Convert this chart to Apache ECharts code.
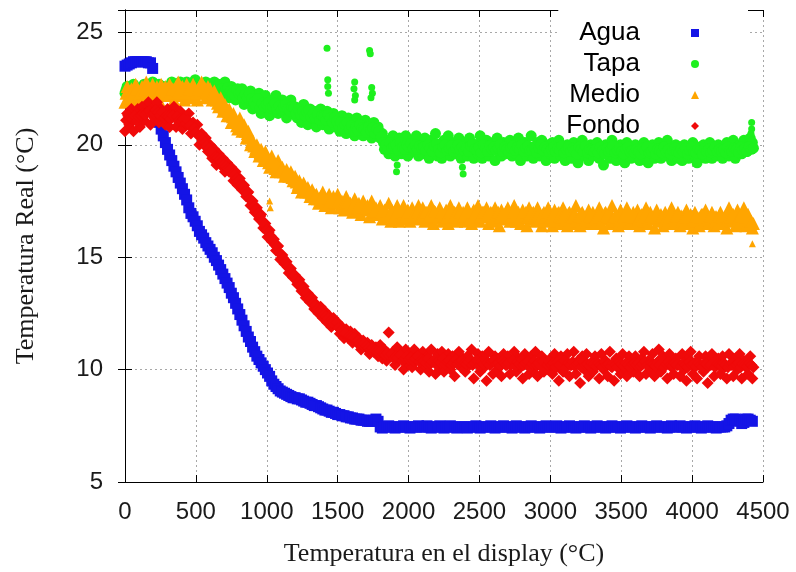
<!DOCTYPE html>
<html>
<head>
<meta charset="utf-8">
<script src="https://cdn.jsdelivr.net/npm/echarts/dist/echarts.min.js"></script>
<style>
  html, body { margin: 0; padding: 0; background: #ffffff; }
  #chart { width: 796px; height: 572px; }
</style>
</head>
<body>
<div id="chart"></div>
<script>
// Readings are logged every 15 units of display temperature, starting at 0.
// The sensors in the container are sampled twice per step: pass A at the step,
// pass B half a step later.
const X_STEP = 15;
const PASS_B_OFFSET = 7.5;

const xTicks = [0, 500, 1000, 1500, 2000, 2500, 3000, 3500, 4000, 4500];
const yTicks = [5, 10, 15, 20, 25];

const seriesNames = ['Agua', 'Tapa', 'Medio', 'Fondo'];

// Agua (water)
const agua = [
  23.5, 23.55, 23.6, 23.65, 23.7, 23.7, 23.7, 23.7, 23.7, 23.7, 23.7, 23.65, 23.65, 23.4, 22.5, 21.4, 21.0, 20.7, 20.4, 20.1,
  19.8, 19.55, 19.3, 19.05, 18.8, 18.55, 18.3, 18.05, 17.8, 17.55, 17.2, 16.95, 16.8, 16.6, 16.4, 16.15, 16.0, 15.85, 15.65, 15.5,
  15.35, 15.2, 15.0, 14.85, 14.65, 14.45, 14.25, 14.05, 13.85, 13.65, 13.4, 13.2, 12.95, 12.7, 12.45, 12.2, 11.95, 11.7, 11.45, 11.25,
  11.0, 10.8, 10.6, 10.45, 10.3, 10.15, 10.0, 9.85, 9.7, 9.5, 9.35, 9.25, 9.15, 9.05, 9.0, 8.95, 8.9, 8.85, 8.8, 8.75,
  8.75, 8.7, 8.7, 8.65, 8.6, 8.55, 8.55, 8.5, 8.45, 8.4, 8.4, 8.35, 8.3, 8.25, 8.2, 8.2, 8.15, 8.1, 8.1, 8.05,
  8.0, 8.0, 7.95, 7.95, 7.9, 7.9, 7.85, 7.85, 7.8, 7.8, 7.8, 7.75, 7.75, 7.75, 7.7, 7.7, 7.7, 7.75, 7.8, 7.7,
  7.45, 7.4, 7.45, 7.45, 7.5, 7.45, 7.45, 7.4, 7.45, 7.45, 7.45, 7.5, 7.45, 7.45, 7.4, 7.45, 7.45, 7.45, 7.5, 7.45,
  7.45, 7.45, 7.5, 7.45, 7.4, 7.45, 7.45, 7.45, 7.5, 7.45, 7.4, 7.45, 7.45, 7.5, 7.45, 7.45, 7.4, 7.45, 7.45, 7.45,
  7.45, 7.4, 7.45, 7.45, 7.45, 7.5, 7.45, 7.4, 7.45, 7.45, 7.45, 7.45, 7.5, 7.45, 7.4, 7.45, 7.45, 7.45, 7.5, 7.45,
  7.45, 7.45, 7.4, 7.45, 7.5, 7.45, 7.45, 7.45, 7.4, 7.45, 7.45, 7.5, 7.45, 7.45, 7.45, 7.4, 7.45, 7.45, 7.5, 7.45,
  7.45, 7.45, 7.45, 7.5, 7.45, 7.4, 7.45, 7.45, 7.45, 7.5, 7.45, 7.45, 7.4, 7.45, 7.45, 7.45, 7.5, 7.45, 7.45, 7.4,
  7.45, 7.45, 7.5, 7.45, 7.45, 7.45, 7.4, 7.45, 7.45, 7.5, 7.45, 7.45, 7.45, 7.4, 7.45, 7.45, 7.5, 7.45, 7.45, 7.45,
  7.4, 7.45, 7.45, 7.5, 7.45, 7.45, 7.45, 7.4, 7.45, 7.45, 7.5, 7.45, 7.45, 7.45, 7.45, 7.4, 7.45, 7.5, 7.45, 7.45,
  7.45, 7.5, 7.45, 7.45, 7.4, 7.45, 7.45, 7.45, 7.5, 7.45, 7.45, 7.4, 7.45, 7.45, 7.5, 7.45, 7.45, 7.45, 7.4, 7.45,
  7.45, 7.45, 7.45, 7.5, 7.6, 7.75, 7.8, 7.8, 7.75, 7.7, 7.6, 7.65, 7.8, 7.8, 7.75, 7.7
];

// Tapa (lid), pass A
const tapa = [
  22.3, 22.6, 22.1, 22.5, 22.7, 22.2, 22.5, 22.1, 22.4, 22.7, 22.2, 22.6, 22.3, 22.8, 22.1, 22.5, 22.7, 22.2, 22.6, 22.4,
  22.6, 22.2, 22.8, 22.4, 22.7, 22.2, 22.8, 22.5, 22.3, 22.8, 22.6, 22.3, 22.7, 22.9, 22.4, 22.7, 22.3, 22.6, 22.8, 22.5,
  22.7, 22.3, 22.8, 22.4, 22.7, 22.2, 22.6, 22.8, 22.3, 22.1, 22.6, 22.4, 22.0, 22.5, 22.2, 22.5, 21.8, 22.3, 22.0, 22.4,
  21.6, 22.2, 21.8, 22.3, 21.4, 21.9, 22.2, 21.6, 21.3, 22.0, 21.7, 22.2, 21.4, 21.8, 22.0, 21.5, 21.2, 21.9, 22.0, 21.4,
  21.7, 21.2, 21.6, 21.0, 21.8, 21.3, 20.9, 21.6, 21.2, 21.5, 20.8, 21.4, 21.6, 20.9, 21.3, 21.5, 20.7, 21.1, 21.4, 20.8,
  21.1, 20.6, 21.3, 20.9, 20.5, 21.2, 20.8, 21.0, 20.4, 21.2, 20.7, 21.0, 20.4, 21.1, 20.6, 20.9, 20.3, 21.0, 20.5, 20.8,
  20.3, 20.5, 19.8, 20.2, 19.6, 20.0, 20.4, 19.5, 19.9, 20.3, 19.6, 20.1, 20.4, 19.5, 19.8, 20.2, 19.7, 20.4, 19.5, 20.0,
  19.6, 20.3, 19.9, 19.4, 20.2, 19.7, 20.5, 19.5, 20.0, 19.4, 20.2, 19.8, 20.4, 19.5, 19.9, 20.1, 19.6, 20.3, 19.4, 19.8,
  20.1, 19.5, 20.3, 19.8, 19.4, 20.0, 19.6, 20.4, 19.4, 19.9, 20.2, 19.5, 19.8, 20.1, 19.3, 20.3, 19.7, 19.5, 20.1, 19.6,
  19.9, 20.2, 19.5, 20.0, 19.6, 20.3, 19.3, 19.8, 20.1, 19.5, 19.9, 20.4, 19.4, 19.7, 20.1, 19.5, 20.2, 19.8, 19.3, 20.0,
  19.6, 20.1, 19.4, 19.9, 20.2, 19.5, 19.8, 19.3, 20.0, 19.6, 19.4, 20.1, 19.7, 19.2, 19.9, 20.2, 19.5, 19.8, 19.3, 20.0,
  19.5, 19.9, 20.1, 19.4, 19.7, 19.1, 20.0, 19.6, 19.4, 20.2, 19.8, 19.3, 19.9, 20.0, 19.5, 19.2, 20.1, 19.6, 19.4, 19.8,
  20.0, 19.5, 19.3, 19.9, 20.1, 19.6, 19.2, 19.8, 20.0, 19.4, 19.7, 20.1, 19.4, 19.9, 19.5, 20.2, 19.7, 19.3, 19.8, 20.0,
  19.4, 19.9, 19.3, 20.0, 19.6, 19.4, 19.8, 20.1, 19.5, 19.2, 19.9, 19.6, 20.0, 19.4, 19.7, 20.1, 19.4, 19.8, 19.5, 20.0,
  19.6, 19.4, 19.9, 20.1, 19.5, 19.8, 20.2, 19.4, 19.9, 20.0, 19.6, 20.2, 19.7, 20.0, 20.3, 20.1
];
// Tapa (lid), pass B
const tapaB = [
  22.45, 22.35, 22.6, 22.3, 22.5, 22.4, 22.3, 22.55, 22.25, 22.5, 22.4, 22.35, 22.6, 22.45, 22.3, 22.55, 22.4, 22.5, 22.3, 22.55,
  22.4, 22.55, 22.45, 22.6, 22.35, 22.5, 22.6, 22.4, 22.55, 22.45, 22.4, 22.6, 22.5, 22.45, 22.6, 22.5, 22.45, 22.55, 22.5, 22.6,
  22.5, 22.55, 22.45, 22.6, 22.4, 22.5, 22.3, 22.45, 22.55, 22.4, 22.3, 22.2, 22.45, 22.3, 22.35, 22.1, 22.25, 22.1, 22.3, 22.05,
  21.9, 21.75, 22.05, 21.6, 21.85, 21.7, 21.8, 21.9, 21.65, 21.7, 21.85, 21.6, 21.75, 21.55, 21.7, 21.8, 21.6, 21.5, 21.7, 21.65,
  21.4, 21.6, 21.35, 21.5, 21.3, 21.45, 21.55, 21.25, 21.4, 21.2, 21.35, 21.1, 21.3, 21.25, 21.1, 21.35, 21.2, 21.0, 21.2, 21.05,
  20.85, 21.0, 20.75, 20.9, 21.0, 20.7, 20.85, 20.6, 20.8, 20.65, 20.9, 20.75, 20.7, 20.55, 20.8, 20.65, 20.75, 20.5, 20.7, 20.6,
  20.35, 20.1, 20.0, 19.8, 20.1, 19.85, 19.95, 20.0, 19.75, 20.1, 19.9, 19.8, 20.0, 19.9, 20.05, 19.85, 20.0, 19.8, 19.95, 19.85,
  19.9, 19.75, 20.0, 19.85, 19.7, 19.95, 20.05, 19.8, 19.65, 19.9, 20.0, 19.75, 19.85, 19.95, 19.7, 19.85, 20.0, 19.8, 19.9, 19.75,
  19.85, 19.7, 19.95, 20.05, 19.8, 19.75, 19.9, 19.65, 20.0, 19.85, 19.7, 19.95, 19.8, 19.9, 19.75, 19.85, 20.0, 19.7, 19.9, 19.8,
  19.7, 19.85, 19.95, 19.75, 19.9, 19.8, 20.0, 19.7, 19.85, 19.95, 19.75, 19.8, 19.9, 19.65, 19.85, 20.0, 19.75, 19.9, 19.8, 19.7,
  19.8, 19.9, 19.7, 19.85, 19.75, 19.95, 19.65, 19.8, 19.9, 19.7, 19.85, 19.75, 19.6, 19.9, 19.8, 19.7, 19.95, 19.65, 19.8, 19.75,
  19.7, 19.8, 19.65, 19.9, 19.75, 19.6, 19.85, 19.7, 19.8, 19.95, 19.65, 19.75, 19.85, 19.7, 19.6, 19.8, 19.9, 19.7, 19.75, 19.65,
  19.8, 19.7, 19.6, 19.85, 19.75, 19.9, 19.65, 19.7, 19.85, 19.6, 19.8, 19.75, 19.65, 19.9, 19.7, 19.8, 19.6, 19.75, 19.85, 19.7,
  19.65, 19.8, 19.7, 19.85, 19.6, 19.75, 19.9, 19.7, 19.65, 19.8, 19.75, 19.6, 19.85, 19.7, 19.8, 19.65, 19.75, 19.9, 19.7, 19.8,
  19.7, 19.8, 19.65, 19.9, 19.75, 19.7, 19.85, 19.8, 19.65, 19.9, 19.75, 19.85, 19.7, 19.9, 19.8, 19.85
];
// Isolated lid readings off the main band, as [x, y]
const tapaSueltos = [
  [1425, 24.3], [1430, 22.9], [1430, 22.6], [1435, 22.3],
  [1620, 22.8], [1615, 22.5], [1625, 22.2], [1620, 22.0],
  [1725, 24.2], [1730, 24.05], [1740, 22.55], [1745, 22.3], [1735, 22.1],
  [1915, 18.8], [1920, 19.1], [2380, 19.0], [2385, 18.7],
  [4420, 21.0], [4420, 20.7], [4415, 20.5]
];

// Medio (middle), pass A
const medio = [
  21.9, 22.6, 22.1, 22.5, 22.0, 22.7, 22.3, 22.1, 22.6, 22.2, 22.8, 22.0, 22.5, 22.7, 22.1, 22.6, 22.0, 22.7, 22.3, 22.6,
  22.2, 22.7, 22.4, 22.0, 22.6, 22.8, 22.2, 22.6, 22.0, 22.7, 22.4, 22.1, 22.7, 22.5, 22.0, 22.6, 22.8, 22.3, 22.1, 22.6,
  22.5, 22.0, 22.4, 22.0, 21.7, 22.1, 21.5, 21.8, 21.3, 21.6, 21.0, 21.4, 21.0, 20.7, 21.2, 20.6, 20.9, 20.3, 20.6, 20.0,
  20.2, 19.7, 20.0, 19.5, 19.8, 19.3, 19.7, 19.4, 19.0, 19.5, 19.1, 18.8, 19.3, 18.8, 19.0, 18.6, 18.9, 18.6, 18.8, 18.4,
  18.6, 18.1, 18.4, 17.9, 18.3, 17.9, 18.1, 17.7, 18.0, 17.6, 17.8, 17.4, 17.7, 17.9, 17.3, 17.6, 17.8, 17.2, 17.7, 17.4,
  17.8, 17.2, 17.5, 17.1, 17.7, 17.3, 17.4, 17.0, 17.6, 17.1, 17.4, 16.9, 17.5, 17.2, 17.3, 16.8, 17.5, 17.0, 17.2, 16.9,
  17.3, 16.7, 17.1, 16.9, 17.4, 16.6, 17.0, 16.8, 17.3, 16.6, 17.0, 17.3, 16.7, 17.1, 16.6, 17.2, 16.9, 16.7, 17.3, 16.8,
  17.2, 16.6, 17.0, 16.7, 17.3, 16.5, 17.0, 16.8, 17.2, 16.6, 16.9, 17.1, 16.5, 17.3, 16.7, 17.0, 16.6, 17.2, 16.8, 17.0,
  16.6, 17.2, 16.9, 16.5, 17.1, 16.7, 17.3, 16.6, 17.0, 16.8, 17.2, 16.5, 17.0, 16.6, 17.2, 16.9, 16.4, 17.1, 16.7, 17.0,
  17.2, 16.6, 16.9, 17.3, 16.6, 17.0, 16.5, 17.1, 16.8, 16.4, 17.2, 16.7, 17.0, 16.6, 17.2, 16.9, 16.4, 17.0, 16.6, 17.2,
  16.8, 16.4, 17.1, 16.6, 17.0, 16.5, 17.2, 16.7, 16.4, 17.0, 16.9, 16.5, 17.3, 16.6, 16.4, 17.0, 16.8, 16.5, 17.1, 16.6,
  17.0, 16.5, 16.8, 17.2, 16.5, 16.3, 17.0, 16.7, 16.5, 17.3, 16.6, 16.9, 16.4, 17.1, 16.5, 16.8, 17.2, 16.5, 16.7, 17.0,
  16.5, 17.1, 16.4, 16.9, 16.6, 17.2, 16.5, 17.0, 16.7, 16.3, 17.1, 16.6, 16.9, 16.4, 17.0, 16.5, 16.8, 17.2, 16.5, 16.7,
  17.0, 16.4, 16.8, 16.5, 17.1, 16.5, 16.9, 16.3, 17.0, 16.6, 16.4, 16.9, 16.5, 17.1, 16.5, 16.7, 17.0, 16.4, 16.8, 16.5,
  17.0, 16.5, 16.8, 16.3, 17.2, 16.6, 16.9, 16.4, 17.1, 16.5, 16.8, 17.2, 16.4, 16.9, 16.6, 16.3
];
// Medio (middle), pass B
const medioB = [
  22.3, 22.45, 22.2, 22.4, 22.35, 22.5, 22.25, 22.4, 22.3, 22.45, 22.35, 22.5, 22.3, 22.4, 22.45, 22.25, 22.4, 22.35, 22.5, 22.4,
  22.4, 22.35, 22.5, 22.3, 22.45, 22.4, 22.55, 22.3, 22.45, 22.4, 22.5, 22.35, 22.45, 22.3, 22.5, 22.4, 22.45, 22.55, 22.4, 22.35,
  22.2, 22.25, 22.15, 21.85, 21.9, 21.75, 21.65, 21.55, 21.5, 21.3, 21.25, 21.15, 20.85, 20.95, 20.85, 20.75, 20.6, 20.5, 20.3, 20.15,
  19.95, 19.85, 19.75, 19.65, 19.55, 19.5, 19.55, 19.2, 19.25, 19.3, 18.95, 19.05, 19.0, 18.9, 18.8, 18.75, 18.7, 18.7, 18.55, 18.5,
  18.35, 18.25, 18.15, 18.1, 18.1, 18.0, 17.9, 17.85, 17.8, 17.75, 17.6, 17.6, 17.75, 17.6, 17.5, 17.65, 17.5, 17.45, 17.5, 17.55,
  17.5, 17.4, 17.35, 17.4, 17.45, 17.3, 17.2, 17.35, 17.3, 17.25, 17.15, 17.25, 17.3, 17.2, 17.1, 17.2, 17.25, 17.1, 17.05, 17.15,
  17.0, 16.9, 17.05, 16.85, 16.95, 17.1, 16.8, 16.95, 16.9, 17.0, 16.85, 17.05, 16.9, 16.8, 17.0, 16.9, 16.85, 17.0, 16.95, 16.85,
  16.9, 17.0, 16.8, 16.95, 16.85, 17.05, 16.9, 16.75, 17.0, 16.85, 16.95, 16.8, 17.0, 16.9, 16.85, 16.95, 16.8, 17.0, 16.9, 16.85,
  16.85, 16.95, 16.75, 17.0, 16.9, 16.8, 16.95, 16.85, 17.0, 16.8, 16.9, 16.85, 16.95, 16.75, 16.9, 17.0, 16.8, 16.9, 16.85, 16.95,
  16.9, 16.8, 17.0, 16.85, 16.95, 16.75, 16.9, 16.85, 17.0, 16.8, 16.9, 16.95, 16.8, 16.85, 16.95, 16.75, 16.9, 16.8, 17.0, 16.85,
  16.8, 16.9, 16.75, 16.95, 16.85, 16.8, 16.9, 16.7, 16.95, 16.85, 16.8, 16.9, 16.75, 16.85, 16.95, 16.8, 16.7, 16.9, 16.85, 16.8,
  16.85, 16.75, 16.9, 16.8, 16.7, 16.95, 16.85, 16.8, 16.9, 16.75, 16.85, 16.8, 16.7, 16.9, 16.8, 16.75, 16.85, 16.9, 16.7, 16.8,
  16.8, 16.7, 16.85, 16.75, 16.9, 16.8, 16.7, 16.85, 16.75, 16.8, 16.9, 16.7, 16.8, 16.85, 16.75, 16.7, 16.9, 16.8, 16.75, 16.85,
  16.75, 16.85, 16.7, 16.8, 16.9, 16.75, 16.8, 16.7, 16.85, 16.75, 16.8, 16.9, 16.7, 16.8, 16.75, 16.85, 16.7, 16.8, 16.75, 16.85,
  16.8, 16.7, 16.85, 16.75, 16.8, 16.9, 16.7, 16.8, 16.75, 16.85, 16.7, 16.8, 16.9, 16.7, 16.6, 16.5
];
const medioSueltos = [[1020, 17.5], [1025, 17.2], [4425, 15.6]];

// Fondo (bottom), pass A
const fondo = [
  20.6, 21.4, 20.9, 21.6, 20.6, 21.2, 21.6, 20.8, 21.7, 21.1, 21.4, 21.9, 20.9, 21.6, 21.2, 21.9, 21.0, 21.6, 21.3, 20.9,
  21.6, 20.8, 21.4, 21.7, 20.8, 21.1, 21.5, 20.7, 21.3, 20.9, 21.4, 20.5, 21.0, 20.6, 20.9, 20.0, 20.5, 20.0, 20.3, 19.7,
  20.0, 19.4, 19.8, 19.1, 19.6, 19.1, 19.4, 18.8, 19.2, 18.8, 19.0, 18.4, 18.8, 18.2, 18.5, 18.0, 18.2, 17.7, 17.9, 17.3,
  17.5, 17.0, 17.2, 16.7, 16.9, 16.3, 16.5, 15.9, 16.2, 15.7, 15.8, 15.3, 15.5, 14.9, 15.1, 14.7, 14.8, 14.3, 14.5, 14.1,
  14.2, 13.8, 14.0, 13.5, 13.7, 13.2, 13.4, 13.0, 13.2, 12.7, 12.9, 12.5, 12.8, 12.3, 12.6, 12.1, 12.4, 11.9, 12.3, 12.0,
  12.1, 11.6, 11.9, 11.4, 11.8, 11.4, 11.7, 11.2, 11.6, 11.2, 11.4, 10.9, 11.3, 11.0, 11.2, 10.7, 11.1, 10.8, 11.0, 10.6,
  11.1, 10.5, 10.9, 10.4, 11.65, 10.6, 10.8, 10.2, 11.0, 10.5, 10.7, 10.0, 10.9, 10.3, 10.7, 10.1, 10.9, 10.4, 10.6, 10.0,
  10.8, 10.2, 10.6, 9.9, 10.9, 10.4, 9.8, 10.7, 10.1, 10.8, 9.9, 10.5, 10.7, 10.0, 10.6, 9.7, 10.3, 10.8, 10.1, 10.5,
  9.9, 10.6, 10.2, 10.9, 9.6, 10.4, 10.7, 9.9, 10.6, 10.1, 9.5, 10.8, 10.3, 9.8, 10.6, 10.0, 10.5, 9.7, 10.7, 10.2,
  10.6, 9.8, 10.3, 10.8, 9.9, 10.5, 10.1, 9.6, 10.7, 10.2, 9.8, 10.6, 10.0, 10.8, 9.7, 10.4, 10.6, 9.9, 10.3, 10.0,
  10.5, 9.8, 10.7, 10.1, 9.5, 10.6, 9.9, 10.3, 10.7, 9.7, 10.2, 10.8, 9.8, 10.4, 9.4, 10.6, 10.0, 10.7, 9.7, 10.3,
  9.9, 10.6, 10.2, 9.6, 10.7, 10.0, 10.4, 9.7, 10.8, 10.1, 9.5, 10.5, 10.2, 9.8, 10.7, 10.0, 9.7, 10.6, 10.3, 9.9,
  10.6, 10.1, 9.7, 10.5, 10.8, 9.8, 10.4, 10.0, 10.7, 9.7, 10.3, 10.9, 9.9, 10.6, 10.2, 9.6, 10.7, 10.1, 9.8, 10.5,
  10.2, 9.7, 10.7, 10.0, 9.5, 10.5, 10.8, 9.8, 10.3, 9.6, 10.6, 10.1, 9.9, 10.6, 9.4, 10.4, 10.7, 9.7, 10.2, 10.5,
  9.8, 10.6, 10.1, 9.6, 10.7, 10.2, 9.7, 10.5, 10.0, 10.7, 9.6, 10.4, 10.1, 9.8, 10.6, 9.6
];
// Fondo (bottom), pass B
const fondoB = [
  21.1, 21.3, 21.2, 21.15, 21.3, 21.05, 21.25, 21.3, 21.4, 21.35, 21.45, 21.5, 21.35, 21.4, 21.55, 21.45, 21.3, 21.45, 21.2, 21.3,
  21.25, 21.15, 21.3, 21.2, 21.25, 21.1, 21.05, 21.15, 20.95, 21.1, 20.85, 20.8, 20.75, 20.55, 20.4, 20.35, 20.2, 20.1, 19.95, 19.85,
  19.7, 19.6, 19.45, 19.4, 19.35, 19.25, 19.1, 19.05, 18.95, 18.9, 18.7, 18.65, 18.5, 18.4, 18.25, 18.15, 17.95, 17.85, 17.6, 17.5,
  17.25, 17.1, 16.95, 16.8, 16.6, 16.45, 16.2, 16.1, 15.95, 15.8, 15.55, 15.45, 15.2, 15.1, 14.95, 14.8, 14.55, 14.45, 14.3, 14.2,
  14.0, 13.9, 13.75, 13.6, 13.45, 13.4, 13.2, 13.15, 12.95, 12.85, 12.7, 12.6, 12.55, 12.45, 12.35, 12.3, 12.15, 12.1, 12.05, 12.1,
  11.85, 11.75, 11.65, 11.6, 11.55, 11.5, 11.45, 11.4, 11.35, 11.3, 11.15, 11.1, 11.15, 11.05, 10.95, 10.9, 10.95, 10.85, 10.8, 10.75,
  10.8, 10.7, 10.65, 10.75, 10.6, 10.7, 10.5, 10.6, 10.55, 10.65, 10.4, 10.5, 10.6, 10.45, 10.55, 10.4, 10.5, 10.6, 10.35, 10.45,
  10.4, 10.3, 10.5, 10.25, 10.35, 10.45, 10.2, 10.4, 10.3, 10.5, 10.25, 10.35, 10.4, 10.2, 10.3, 10.45, 10.25, 10.35, 10.4, 10.3,
  10.25, 10.35, 10.45, 10.2, 10.3, 10.4, 10.15, 10.35, 10.25, 10.45, 10.3, 10.2, 10.35, 10.4, 10.25, 10.3, 10.15, 10.4, 10.3, 10.2,
  10.3, 10.2, 10.4, 10.15, 10.35, 10.25, 10.45, 10.2, 10.3, 10.35, 10.1, 10.25, 10.4, 10.2, 10.3, 10.15, 10.35, 10.25, 10.2, 10.35,
  10.2, 10.3, 10.1, 10.35, 10.2, 10.25, 10.4, 10.1, 10.3, 10.2, 10.35, 10.15, 10.25, 10.3, 10.1, 10.35, 10.2, 10.25, 10.15, 10.3,
  10.25, 10.15, 10.3, 10.2, 10.1, 10.35, 10.2, 10.25, 10.15, 10.3, 10.2, 10.1, 10.35, 10.25, 10.15, 10.3, 10.2, 10.1, 10.25, 10.3,
  10.2, 10.3, 10.15, 10.25, 10.35, 10.2, 10.1, 10.3, 10.25, 10.15, 10.35, 10.2, 10.3, 10.1, 10.25, 10.35, 10.2, 10.15, 10.3, 10.2,
  10.25, 10.15, 10.3, 10.2, 10.1, 10.35, 10.2, 10.25, 10.15, 10.3, 10.2, 10.1, 10.3, 10.25, 10.15, 10.2, 10.3, 10.1, 10.25, 10.2,
  10.15, 10.3, 10.2, 10.1, 10.25, 10.3, 10.15, 10.2, 10.3, 10.1, 10.25, 10.2, 10.15, 10.3, 10.2, 10.1
];

const colors = ['#1414e6', '#1ef01e', '#ffa500', '#f00a0a'];
const symbols = ['rect', 'circle', 'triangle', 'diamond'];
const symbolSizes = [11, 11, 13, 12];
const strayPointSize = 7;

// Turn a list of readings into [x, y] points on the display-temperature grid.
function toPoints(values, offset) {
  return values.map(function (v, i) { return [i * X_STEP + (offset || 0), v]; });
}
function strays(list) {
  return (list || []).map(function (p) { return { value: p, symbolSize: strayPointSize }; });
}

const seriesData = [
  toPoints(agua),
  toPoints(tapa).concat(toPoints(tapaB, PASS_B_OFFSET), strays(tapaSueltos)),
  toPoints(medio).concat(toPoints(medioB, PASS_B_OFFSET), strays(medioSueltos)),
  toPoints(fondo).concat(toPoints(fondoB, PASS_B_OFFSET))
];

const tickFont = { fontFamily: 'Liberation Sans, Arial, sans-serif', fontSize: 24, color: '#1a1a1a' };
const titleFont = { fontFamily: 'Liberation Serif, Times New Roman, serif', fontSize: 26, color: '#1a1a1a' };
const gridLine = { show: true, lineStyle: { color: '#a8a8a8', width: 1, type: [2, 3] } };
const frame = { show: true, lineStyle: { color: '#000000', width: 1 } };
const inTicks = { show: true, inside: true, length: 7, lineStyle: { color: '#000000', width: 1 } };

const chart = echarts.init(document.getElementById('chart'), null, { renderer: 'canvas' });

chart.setOption({
  animation: false,
  backgroundColor: '#ffffff',
  grid: { left: 125, right: 33, top: 10, bottom: 89 },
  legend: {
    data: seriesNames,
    orient: 'vertical',
    align: 'right',
    right: 48,
    top: 10,
    padding: [9, 49, 0, 8],
    backgroundColor: '#ffffff',
    itemGap: 3,
    itemWidth: 8,
    itemHeight: 8,
    selectedMode: false,
    textStyle: {
      fontFamily: 'Liberation Sans, Arial, sans-serif',
      fontSize: 26,
      lineHeight: 16,
      color: '#000000',
      padding: [0, 46, 12, 0]
    },
    z: 1
  },
  xAxis: [
    {
      type: 'value', position: 'bottom', min: 0, max: 4500, interval: 500,
      axisLine: frame, axisTick: inTicks, splitLine: gridLine,
      axisLabel: Object.assign({ margin: 18, formatter: function (v) { return xTicks.indexOf(v) >= 0 ? String(v) : ''; } }, tickFont),
      name: 'Temperatura en el display (°C)', nameLocation: 'middle', nameGap: 59,
      nameTextStyle: titleFont
    },
    {
      type: 'value', position: 'top', min: 0, max: 4500, interval: 500,
      axisLine: frame, axisTick: inTicks, splitLine: { show: false }, axisLabel: { show: false }
    }
  ],
  yAxis: [
    {
      type: 'value', position: 'left', min: 5, max: 26, interval: 5,
      axisLine: frame, axisTick: inTicks, splitLine: gridLine,
      axisLabel: Object.assign({ margin: 22, formatter: function (v) { return yTicks.indexOf(v) >= 0 ? String(v) : ''; } }, tickFont),
      name: 'Temperatura Real (°C)', nameLocation: 'middle', nameGap: 86,
      nameTextStyle: titleFont
    },
    {
      type: 'value', position: 'right', min: 5, max: 26, interval: 5,
      axisLine: frame, axisTick: inTicks, splitLine: { show: false }, axisLabel: { show: false }
    }
  ],
  series: seriesNames.map(function (name, k) {
    return {
      name: name,
      type: 'scatter',
      xAxisIndex: 0,
      yAxisIndex: 0,
      data: seriesData[k],
      symbol: symbols[k],
      symbolSize: symbolSizes[k],
      itemStyle: { color: colors[k], opacity: 1 },
      emphasis: { disabled: true },
      silent: true,
      z: 2
    };
  })
});
</script>
</body>
</html>
